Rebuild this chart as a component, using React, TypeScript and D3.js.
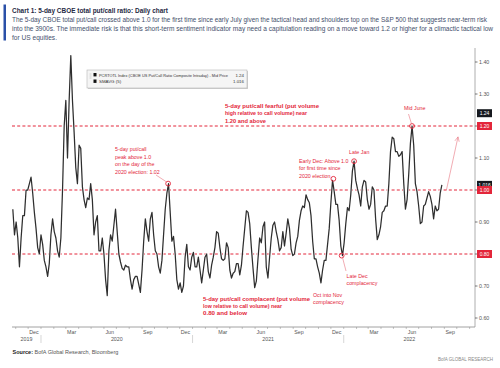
import React from "react";
import * as d3 from "d3";

const W = 500;
const H = 368;

// 5-day CBOE total put/call ratio, one reading every 4 days from seriesStart
const seriesStart = "2019-10-25";
const stepDays = 4;
const ratio5d = [
  0.94, 0.86, 0.9, 0.85, 0.76, 0.85, 0.92, 0.92, 1.0, 1.0,
  1.02, 1.04, 0.99, 0.93, 0.88, 0.82, 0.8, 0.86, 0.83, 0.78,
  0.76, 0.73, 0.77, 0.86, 0.91, 0.87, 0.85, 0.81, 0.79, 0.85,
  1.0, 1.2, 1.28, 1.1, 1.28, 1.42, 1.28, 1.18, 1.07, 1.02,
  1.14, 1.13, 1.01, 0.97, 0.945, 0.975, 0.97, 1.02, 0.97, 0.86,
  0.9, 0.92, 0.81, 0.81, 0.85, 0.8, 0.72, 0.67, 0.81, 0.86,
  0.84, 0.89, 0.94, 0.87, 0.8,
  0.775, 0.755, 0.75, 0.765, 0.76,
  0.76, 0.72, 0.69, 0.72, 0.73, 0.73, 0.705, 0.68, 0.75, 0.84,
  0.91, 0.87, 0.84, 0.91, 0.93, 0.86, 0.81, 0.8, 0.76, 0.74,
  0.78, 0.86, 0.94, 0.99, 1.02, 0.93, 0.84, 0.855, 0.8, 0.72,
  0.69, 0.71, 0.68, 0.7, 0.79, 0.83, 0.76, 0.75, 0.79, 0.805,
  0.76, 0.76, 0.79, 0.75, 0.71, 0.75, 0.79, 0.8, 0.745, 0.725,
  0.765, 0.79, 0.82, 0.87, 0.865, 0.82, 0.785, 0.78,
  0.785, 0.835, 0.82, 0.75, 0.725, 0.74, 0.745, 0.77, 0.77, 0.735, 0.765, 0.825,
  0.88, 0.935, 0.93, 0.895, 0.82, 0.755, 0.695, 0.715, 0.785, 0.85,
  0.835, 0.885, 0.9, 0.76, 0.725, 0.79, 0.85, 0.89, 0.9, 0.87,
  0.845, 0.81, 0.82, 0.87, 0.825, 0.865, 0.91, 0.88, 0.815, 0.795,
  0.8, 0.835, 0.855, 0.905, 0.935, 0.95, 0.945, 0.985, 0.97, 0.96,
  0.92, 0.84, 0.785, 0.785, 0.76, 0.74, 0.71, 0.75, 0.78, 0.78, 0.83, 0.88,
  0.96, 1.03, 0.995, 0.955, 0.955, 0.905, 0.825, 0.795,
  0.835, 0.895, 0.945, 0.935, 0.985, 1.06, 1.09, 1.03, 1.005, 0.985,
  0.95, 1.01, 1.03, 1.025, 0.97, 0.94, 0.955, 1.01, 1.0, 0.91,
  0.845, 0.86, 0.885, 0.93, 0.935, 0.95, 0.95, 1.02, 1.12, 1.165,
  1.16, 1.12, 1.12, 1.105, 1.11, 1.12, 1.02, 0.94, 0.97, 1.05,
  1.145, 1.2, 1.14, 1.02, 0.995, 0.95, 0.895, 0.9, 0.95, 0.955,
  0.975, 0.995, 0.98, 0.955, 0.91, 0.95, 0.935, 0.94, 0.99, 1.016,
];

const yTickValues = [0.6, 0.7, 0.8, 0.9, 1.0, 1.1, 1.2, 1.3, 1.4];
const bandLevels = [0.8, 1.0, 1.2];

const monthLabelDates = [
  "2019-12-15", "2020-03-15", "2020-06-15", "2020-09-15", "2020-12-15", "2021-03-15",
  "2021-06-15", "2021-09-15", "2021-12-15", "2022-03-15", "2022-06-15", "2022-09-15",
];
const monthLabels = ["Dec", "Mar", "Jun", "Sep", "Dec", "Mar", "Jun", "Sep", "Dec", "Mar", "Jun", "Sep"];

const markerDates = ["2020-11-03", "2021-12-07", "2021-12-27", "2022-01-26", "2022-06-15"];
const markerValues = [1.02, 1.035, 0.795, 1.09, 1.2];

const arrowDates = ["2022-09-06", "2022-10-04"];
const arrowValues = [1.0, 1.166];

const lastPrice = 1.24;
const lastAvg = 1.016;

const RED = "#e3263a";
const SANS = "'Liberation Sans Narrow', 'Liberation Sans', Arial, sans-serif";

const parse = d3.timeParse("%Y-%m-%d");

const x = d3
  .scaleTime()
  .domain([parse("2019-10-23") as Date, parse("2022-11-14") as Date])
  .range([12, 475]);
const y = d3.scaleLinear().domain([0.6, 1.4]).range([318, 62]);

function App() {
  const start = parse(seriesStart) as Date;
  const dates = ratio5d.map((_, i) => d3.timeDay.offset(start, i * stepDays));
  const linePath = d3
    .line<number>()
    .x((_, i) => x(dates[i]))
    .y((d) => y(d))(ratio5d) as string;

  const [d0, d1] = x.domain();
  const monthTicks = d3.timeMonth.range(d0, d1);
  const yearStarts = d3.timeYear.range(d0, d1);
  const yearSpans = [d0, ...yearStarts].map((s, i) => {
    const e = i < yearStarts.length ? yearStarts[i] : d1;
    return { label: String(s.getFullYear()), mid: (x(s) + x(e)) / 2 };
  });

  const markers = markerDates.map((d, i) => ({
    cx: x(parse(d) as Date),
    cy: y(markerValues[i]),
  }));

  const ax0 = x(parse(arrowDates[0]) as Date);
  const ay0 = y(arrowValues[0]);
  const ax1 = x(parse(arrowDates[1]) as Date);
  const ay1 = y(arrowValues[1]);
  const ang = Math.atan2(ay1 - ay0, ax1 - ax0);
  const head = [ang + Math.PI - 0.45, ang + Math.PI + 0.45].map((a) => [
    ax1 + 5 * Math.cos(a),
    ay1 + 5 * Math.sin(a),
  ]);

  const tag = (v: number, label: string, fill: string) => (
    <g key={label + fill}>
      <rect x={477} y={y(v) - 4} width={15} height={8} fill={fill} />
      <text x={484.5} y={y(v) + 1.9} fontSize={5} fill="#fff" textAnchor="middle">
        {label}
      </text>
    </g>
  );

  return (
    <svg
      width={W}
      height={H}
      style={{ position: "absolute", left: 0, top: 0, background: "#fff" }}
      fontFamily={SANS}
    >
      {/* header */}
      <rect x={3.5} y={4.5} width={2.5} height={36} fill="#2a50a8" />
      <text x={12} y={12.5} fontSize={7.6} fontWeight="bold" fill="#1f2a44" textLength={156} lengthAdjust="spacingAndGlyphs">
        Chart 1: 5-day CBOE total put/call ratio: Daily chart
      </text>
      <g fontSize={6.4} fill="#44506c">
        <text x={12} y={21.6} textLength={475} lengthAdjust="spacingAndGlyphs">
          The 5-day CBOE total put/call crossed above 1.0 for the first time since early July given the tactical head and shoulders top on the S&amp;P 500 that suggests near-term risk
        </text>
        <text x={12} y={31} textLength={481} lengthAdjust="spacingAndGlyphs">
          into the 3900s. The immediate risk is that this short-term sentiment indicator may need a capitulation reading on a move toward 1.2 or higher for a climactic tactical low
        </text>
        <text x={12} y={40} textLength={45} lengthAdjust="spacingAndGlyphs">
          for US equities.
        </text>
      </g>

      {/* threshold lines */}
      {bandLevels.map((v) => (
        <line key={v} x1={12} x2={475} y1={y(v)} y2={y(v)} stroke={RED} strokeWidth={1} strokeDasharray="3,2.2" />
      ))}

      {/* series */}
      <path d={linePath} fill="none" stroke="#ffffff" strokeWidth={2.4} strokeLinejoin="round" />
      <path d={linePath} fill="none" stroke="#2e2e2e" strokeWidth={1.25} strokeLinejoin="round" />

      {/* legend */}
      <rect x={88} y={71} width={160} height={18} fill="#cfcfcf" />
      <rect x={87} y={70} width={160} height={18} fill="#f5f5f5" stroke="#b5b5b5" strokeWidth={0.6} />
      <g stroke="#aaa" strokeWidth={0.5}>
        <line x1={89.5} x2={91.5} y1={74} y2={74} />
        <line x1={89.5} x2={91.5} y1={76} y2={76} />
        <line x1={89.5} x2={91.5} y1={78} y2={78} />
      </g>
      <rect x={93.5} y={73} width={3} height={3.4} fill="#111" />
      <rect x={93.5} y={79.5} width={3} height={3.4} fill="#111" />
      <g fill="#333">
        <text x={99} y={76.6} fontSize={3.9}>
          PCRTOTL Index (CBOE US Put/Call Ratio Composite Intraday) - Mid Price
        </text>
        <text x={99} y={83} fontSize={4.4}>SMAVG (5)</text>
        <text x={244} y={76.6} fontSize={4.4} textAnchor="end">{lastPrice.toFixed(2)}</text>
        <text x={244} y={83} fontSize={4.4} textAnchor="end">{lastAvg.toFixed(3)}</text>
      </g>

      {/* axes */}
      <line x1={475} x2={475} y1={48} y2={327} stroke="#9a9a9a" strokeWidth={0.8} />
      {yTickValues.map((v) => (
        <g key={v}>
          <line x1={475} x2={477.5} y1={y(v)} y2={y(v)} stroke="#555" strokeWidth={0.8} />
          <text x={479} y={y(v) + 1.9} fontSize={5.3} fill="#555">
            {v.toFixed(2)}
          </text>
        </g>
      ))}
      <line x1={12} x2={475} y1={327} y2={327} stroke="#8a8a8a" strokeWidth={0.8} />
      {monthTicks.map((d) => (
        <line key={+d} x1={x(d)} x2={x(d)} y1={327} y2={329} stroke="#8a8a8a" strokeWidth={0.5} />
      ))}
      {monthLabelDates.map((d, i) => (
        <text key={d} x={x(parse(d) as Date)} y={334} fontSize={5.3} fill="#555" textAnchor="middle">
          {monthLabels[i]}
        </text>
      ))}
      {yearStarts.map((d) => (
        <line key={+d} x1={x(d)} x2={x(d)} y1={335} y2={343} stroke="#bbb" strokeWidth={0.6} />
      ))}
      {yearSpans.map((s) => (
        <text key={s.label} x={s.mid} y={341} fontSize={5.3} fill="#555" textAnchor="middle">
          {s.label}
        </text>
      ))}

      {/* right-hand value tags */}
      {tag(lastPrice, "1.24", "#16191f")}
      {tag(1.2, "1.20", RED)}
      {tag(lastAvg, "1.016", "#16191f")}
      {tag(1.0, "1.00", RED)}
      {tag(0.8, "0.80", RED)}

      {/* markers */}
      {markers.map((m, i) => (
        <circle key={i} cx={m.cx} cy={m.cy} r={2.4} fill="none" stroke={RED} strokeWidth={0.9} />
      ))}

      {/* leader lines */}
      <g stroke="#e8747f" strokeWidth={0.6} fill="none">
        <line x1={156} y1={175} x2={markers[0].cx - 1.8} y2={markers[0].cy - 1.8} />
        <line x1={408.5} y1={114} x2={markers[4].cx - 0.6} y2={markers[4].cy - 2.4} />
        <line x1={markers[2].cx + 1} y1={markers[2].cy + 2.4} x2={346} y2={271} />
        <line x1={ax0} y1={ay0} x2={ax1} y2={ay1} />
        <polyline points={`${head[0][0]},${head[0][1]} ${ax1},${ay1} ${head[1][0]},${head[1][1]}`} />
      </g>

      {/* bold zone annotations */}
      <g fontSize={6.2} fontWeight="bold" fill={RED}>
        <text x={225} y={107.8} textLength={94} lengthAdjust="spacingAndGlyphs">5-day put/call fearful (put volume</text>
        <text x={225} y={115.4} textLength={82} lengthAdjust="spacingAndGlyphs">high relative to call volume) near</text>
        <text x={225} y={123} textLength={41} lengthAdjust="spacingAndGlyphs">1.20 and above</text>
        <text x={203} y={300.5} textLength={107} lengthAdjust="spacingAndGlyphs">5-day put/call complacent (put volume</text>
        <text x={203} y={307.9} textLength={79} lengthAdjust="spacingAndGlyphs">low relative to call volume) near</text>
        <text x={203} y={315} textLength={44} lengthAdjust="spacingAndGlyphs">0.80 and below</text>
      </g>

      {/* event annotations */}
      <g fontSize={5.3} fill={RED}>
        <text x={115} y={151.3}>5-day put/call</text>
        <text x={115} y={158.7}>peak above 1.0</text>
        <text x={115} y={166}>on the day of the</text>
        <text x={115} y={173.6}>2020 election: 1.02</text>
        <text x={299} y={163}>Early Dec: Above 1.0</text>
        <text x={299} y={170.3}>for first time since</text>
        <text x={299} y={177.8}>2020 election</text>
        <text x={349} y={154}>Late Jan</text>
        <text x={404} y={110}>Mid June</text>
        <text x={346.5} y={277.6}>Late Dec</text>
        <text x={346.5} y={285}>complacency</text>
        <text x={313} y={297}>Oct into Nov</text>
        <text x={313} y={304.3}>complacency</text>
      </g>

      {/* footer */}
      <text x={12.5} y={354} fontSize={5.5} fill="#555">
        <tspan fontWeight="bold" fill="#222">Source:</tspan> BofA Global Research, Bloomberg
      </text>
      <text x={493} y={361} fontSize={5.2} fill="#888" textAnchor="end" textLength={55} lengthAdjust="spacingAndGlyphs">
        BofA GLOBAL RESEARCH
      </text>
    </svg>
  );
}

export default App;
